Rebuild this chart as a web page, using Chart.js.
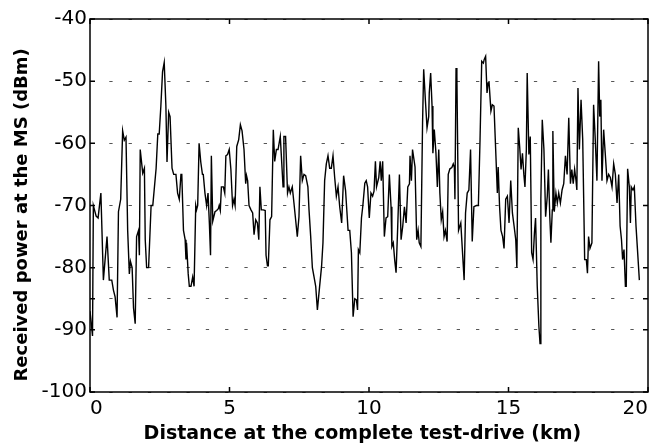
<!DOCTYPE html>
<html lang="en">
<head>
    <meta charset="utf-8">
    <script src="https://cdn.jsdelivr.net/npm/chart.js"></script>
    <style>
        body { margin: 0; background: #fff; }
        #wrap { width: 664px; height: 448px; }
    </style>
</head>
<body>
    <div id="wrap"><canvas id="powerChart"></canvas></div>

    <script>
        // distance along the test-drive (km) and received power (dBm)
        const distKm = [
            0.00, 0.09, 0.12, 0.22, 0.29, 0.39, 0.48, 0.61, 0.69, 0.78, 0.84, 0.90, 0.97, 1.02, 1.10, 1.17, 1.23, 1.29, 1.35, 1.41,
            1.45, 1.51, 1.56, 1.62, 1.67, 1.74, 1.77, 1.80, 1.89, 1.95, 1.98, 2.03, 2.10, 2.19, 2.25, 2.37, 2.43, 2.48, 2.54, 2.60,
            2.66, 2.72, 2.76, 2.82, 2.87, 2.94, 3.00, 3.08, 3.14, 3.20, 3.26, 3.29, 3.35, 3.41, 3.44, 3.46, 3.52, 3.56, 3.62, 3.68,
            3.73, 3.79, 3.82, 3.86, 3.91, 3.97, 4.03, 4.06, 4.12, 4.18, 4.23, 4.28, 4.32, 4.35, 4.40, 4.48, 4.54, 4.60, 4.63, 4.67,
            4.71, 4.78, 4.83, 4.87, 4.93, 4.99, 5.05, 5.11, 5.16, 5.20, 5.26, 5.33, 5.39, 5.45, 5.52, 5.58, 5.61, 5.65, 5.70, 5.77,
            5.83, 5.88, 5.94, 6.00, 6.05, 6.09, 6.14, 6.21, 6.28, 6.31, 6.36, 6.39, 6.45, 6.51, 6.57, 6.62, 6.68, 6.74, 6.82, 6.92,
            6.95, 7.01, 7.08, 7.13, 7.18, 7.25, 7.31, 7.37, 7.43, 7.49, 7.55, 7.61, 7.67, 7.73, 7.81, 7.85, 7.91, 7.97, 8.03, 8.09,
            8.15, 8.23, 8.30, 8.35, 8.41, 8.47, 8.53, 8.59, 8.65, 8.71, 8.77, 8.83, 8.89, 8.95, 9.02, 9.09, 9.16, 9.25, 9.31, 9.37,
            9.43, 9.49, 9.55, 9.59, 9.62, 9.67, 9.73, 9.78, 9.85, 9.90, 9.95, 10.01, 10.07, 10.13, 10.18, 10.23, 10.27, 10.35, 10.40, 10.44,
            10.49, 10.55, 10.61, 10.67, 10.73, 10.79, 10.82, 10.87, 10.92, 10.97, 11.03, 11.09, 11.15, 11.21, 11.27, 11.33, 11.39, 11.45, 11.47, 11.52,
            11.56, 11.65, 11.71, 11.76, 11.80, 11.86, 11.92, 11.96, 12.02, 12.08, 12.14, 12.16, 12.21, 12.26, 12.29, 12.34, 12.40, 12.45, 12.50, 12.54,
            12.59, 12.64, 12.69, 12.74, 12.80, 12.84, 12.90, 12.97, 13.02, 13.06, 13.08, 13.12, 13.15, 13.21, 13.29, 13.41, 13.46, 13.52, 13.58, 13.64,
            13.70, 13.76, 13.85, 13.92, 13.98, 14.04, 14.10, 14.13, 14.18, 14.23, 14.27, 14.30, 14.37, 14.42, 14.48, 14.54, 14.60, 14.63, 14.68, 14.73,
            14.79, 14.84, 14.90, 14.96, 15.02, 15.08, 15.14, 15.20, 15.26, 15.30, 15.35, 15.40, 15.45, 15.50, 15.55, 15.59, 15.64, 15.67, 15.73, 15.78,
            15.83, 15.88, 15.93, 15.97, 16.03, 16.09, 16.13, 16.16, 16.21, 16.27, 16.33, 16.39, 16.43, 16.48, 16.52, 16.57, 16.59, 16.64, 16.70, 16.75,
            16.80, 16.86, 16.92, 16.98, 17.04, 17.10, 17.16, 17.22, 17.27, 17.32, 17.37, 17.42, 17.45, 17.49, 17.54, 17.60, 17.66, 17.73, 17.79, 17.83,
            17.87, 17.92, 17.99, 18.05, 18.11, 18.17, 18.23, 18.27, 18.31, 18.35, 18.41, 18.47, 18.53, 18.59, 18.65, 18.71, 18.77, 18.83, 18.89, 18.95,
            19.00, 19.05, 19.09, 19.14, 19.19, 19.22, 19.27, 19.33, 19.37, 19.40, 19.46, 19.51, 19.57, 19.62, 19.69
        ];
        const powerDbm = [
            -87, -91, -70, -71.7, -72, -68, -82, -75, -82, -82, -83.6, -84.7, -88, -71, -69, -58, -59.5, -59, -74, -81,
            -79, -80, -86.5, -89, -75, -74, -78, -61, -64.8, -64, -75.5, -80, -80, -70, -70, -64, -58.5, -58.5, -54, -48.5,
            -47, -54, -63, -55, -55.7, -64, -65, -65, -68, -69, -65, -65, -74, -75.5, -78.7, -76, -81, -83, -83, -81.5,
            -83, -70, -70.7, -70, -60, -63, -65, -65, -68, -70, -68, -73, -78, -62, -72.5, -71, -70.8, -70.5, -70, -70.8,
            -67, -67, -68, -62, -61.8, -61, -64.2, -70, -69, -70, -60.5, -59.4, -57, -58, -61, -66.5, -65.2, -66, -70, -70.7,
            -71.2, -74.7, -72.3, -72.8, -75.5, -67, -70.7, -70.7, -70.8, -78, -79.7, -79.7, -72.3, -71.8, -57.8, -62.9, -61, -61, -58.9, -67,
            -58.9, -58.9, -68, -67, -68, -67, -69.6, -72.3, -75, -71.8, -62, -66, -65, -65.2, -67, -70.7, -75, -80, -81.5, -83,
            -86.8, -83, -79.8, -76, -66, -63.3, -62, -64, -64, -62, -65.5, -68.5, -67, -70.2, -72.8, -65.2, -67.6, -74, -74, -77.6,
            -87.9, -85, -85.2, -86.8, -77.1, -77.6, -72, -70, -66.4, -66, -67, -72, -68, -68.5, -67.7, -62.9, -67, -65.5, -62.9, -66,
            -62.9, -75, -72, -71.8, -65, -70.2, -76.6, -76, -78.7, -80.8, -73.3, -65, -75.5, -73.3, -70.2, -72.8, -67, -66.5, -62, -66,
            -61, -63.8, -75.5, -74, -76, -76.6, -56.7, -48.1, -53, -57.5, -55.7, -51.9, -48.7, -54, -61.6, -57.8, -61.6, -67, -61, -68,
            -72.3, -71, -75, -74, -75.8, -65, -64.1, -63.9, -63.3, -63.9, -69, -47.9, -49.2, -74, -72.8, -82, -71.2, -68, -67.5, -61,
            -75.8, -70.2, -70, -70, -59.4, -46.8, -47.1, -46.5, -46, -51.9, -50.3, -50, -54.8, -53.8, -54, -61, -68, -63.8, -70.2, -74,
            -75, -76.9, -69, -68.5, -72.8, -66, -71.2, -73.3, -75.5, -80, -57.5, -60.5, -64.2, -61.6, -65, -67, -61, -48.7, -61.8, -58.9,
            -77.6, -78.7, -74.4, -72, -83, -89.5, -92.2, -69, -56.2, -61, -71.8, -68.5, -64.2, -71.8, -76, -70.7, -58, -71, -68, -69.6,
            -68, -69.6, -67.5, -66.5, -62, -65, -55.9, -66.5, -64.2, -66.5, -64.2, -66, -67.5, -51.1, -61, -53, -59.4, -78.7, -78.7, -80.9,
            -75, -76.9, -76, -53.8, -59.4, -66, -46.8, -55.7, -53, -66, -57.8, -61.8, -66, -65, -65.5, -67, -63.3, -65, -69.6, -65,
            -73.3, -75.5, -78.7, -77.1, -83, -83, -64.1, -67, -72.8, -67, -67.5, -67, -73.3, -76.9, -82
        ];

        const xTicks = [0, 5, 10, 15, 20];
        const yTicks = [-100, -90, -85, -80, -70, -60, -50, -40];   // -85 has a dotted line but no label

        const fontFamily = "'DejaVu Sans', 'Liberation Sans', Arial, sans-serif";

        // box around the plot and short ticks pointing inwards
        const frameTicks = {
            id: 'frameTicks',
            afterDraw(chart) {
                const { ctx, chartArea: a, scales: { x, y } } = chart;
                ctx.save();
                ctx.strokeStyle = '#000';
                ctx.lineWidth = 1.5;
                ctx.strokeRect(a.left, a.top, a.right - a.left, a.bottom - a.top);
                ctx.beginPath();
                xTicks.forEach(v => {
                    const px = x.getPixelForValue(v);
                    ctx.moveTo(px, a.bottom); ctx.lineTo(px, a.bottom - 5);
                    ctx.moveTo(px, a.top); ctx.lineTo(px, a.top + 5);
                });
                yTicks.forEach(v => {
                    const py = y.getPixelForValue(v);
                    ctx.moveTo(a.left, py); ctx.lineTo(a.left + 5, py);
                    ctx.moveTo(a.right, py); ctx.lineTo(a.right - 5, py);
                });
                ctx.stroke();
                ctx.restore();
            }
        };

        const ctx = document.getElementById('powerChart').getContext('2d');
        new Chart(ctx, {
            type: 'line',
            data: {
                datasets: [{
                    data: distKm.map((d, i) => ({ x: d, y: powerDbm[i] })),
                    borderColor: '#000',
                    borderWidth: 1.4,
                    pointRadius: 0,
                    tension: 0,
                    fill: false
                }]
            },
            options: {
                responsive: true,
                maintainAspectRatio: false,
                animation: false,
                layout: { padding: { top: 19, right: 16, left: 0, bottom: 0 } },
                plugins: { legend: { display: false }, tooltip: { enabled: false } },
                scales: {
                    x: {
                        type: 'linear',
                        min: 0,
                        max: 20,
                        afterBuildTicks: axis => { axis.ticks = xTicks.map(v => ({ value: v })); },
                        afterFit: axis => { axis.height = 56; },
                        grid: { display: false },
                        border: { display: false },
                        ticks: {
                            color: '#000',
                            font: { family: fontFamily, size: 20 },
                            padding: -3,
                            align: 'inner',
                            maxRotation: 0
                        },
                        title: {
                            display: true,
                            text: 'Distance at the complete test-drive (km)  ',
                            color: '#000',
                            font: { family: fontFamily, size: 19, weight: 'bold' },
                            padding: { top: 0, bottom: 3 }
                        }
                    },
                    y: {
                        min: -100,
                        max: -40,
                        afterBuildTicks: axis => { axis.ticks = yTicks.map(v => ({ value: v })); },
                        afterFit: axis => { axis.width = 90; },
                        grid: { color: '#555', lineWidth: 1, drawTicks: false },
                        border: { display: false, dash: [3.3, 16] },
                        ticks: {
                            color: '#000',
                            font: { family: fontFamily, size: 20 },
                            padding: 3,
                            callback: v => (v % 10 === 0 ? v : '')
                        },
                        title: {
                            display: true,
                            text: 'Received power at the MS (dBm)   ',
                            color: '#000',
                            font: { family: fontFamily, size: 18, weight: 'bold' },
                            padding: { top: 12, bottom: 0 }
                        }
                    }
                }
            },
            plugins: [frameTicks]
        });
    </script>
</body>
</html>
